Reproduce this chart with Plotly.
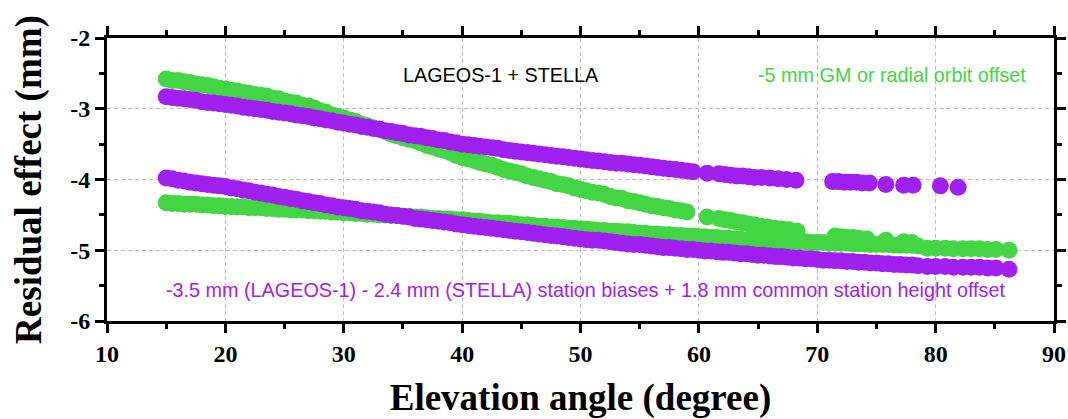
import plotly.graph_objects as go

# ---- data ----
green_a_x = [15.0, 15.5, 16.0, 16.5, 17.0, 17.5, 18.0, 18.5, 19.0, 19.5, 20.0, 20.5, 21.0, 21.5, 22.0, 22.5,
             23.0, 23.5, 24.0, 24.5, 25.0, 25.5, 26.0, 26.5, 27.0, 27.5, 28.0, 28.5, 29.0, 29.5, 30.0, 30.5,
             31.0, 31.5, 32.0, 32.5, 33.0, 33.5, 34.0, 34.5, 35.0, 35.5, 36.0, 36.5, 37.0, 37.5, 38.0, 38.5,
             39.0, 39.5, 40.0, 40.5, 41.0, 41.5, 42.0, 42.5, 43.0, 43.5, 44.0, 44.5, 45.0, 45.5, 46.0, 46.5,
             47.0, 47.5, 48.0, 48.5, 49.0, 49.5, 50.0, 50.5, 51.0, 51.5, 52.0, 52.5, 53.0, 53.5, 54.0, 54.5,
             55.0, 55.5, 56.0, 56.5, 57.0, 57.5, 58.0, 58.5, 59.0, 60.7, 61.7, 62.2, 62.7, 63.2, 63.7, 64.2,
             64.7, 65.2, 65.8, 66.4, 67.0, 67.6, 68.3, 71.5, 72.0, 72.5, 73.0, 73.5, 74.2, 75.8, 77.3, 78.0]
green_a_y = [-2.58, -2.60, -2.60, -2.62, -2.63, -2.65, -2.66, -2.67, -2.69, -2.71, -2.72, -2.74, -2.75, -2.77, -2.78, -2.80,
             -2.81, -2.82, -2.85, -2.86, -2.89, -2.91, -2.92, -2.95, -2.96, -2.99, -3.03, -3.05, -3.09, -3.11, -3.13, -3.16,
             -3.18, -3.22, -3.24, -3.27, -3.29, -3.32, -3.36, -3.38, -3.41, -3.43, -3.45, -3.48, -3.52, -3.54, -3.57, -3.59,
             -3.62, -3.66, -3.69, -3.71, -3.73, -3.76, -3.78, -3.80, -3.83, -3.86, -3.88, -3.90, -3.92, -3.95, -3.97, -3.99,
             -4.01, -4.03, -4.06, -4.07, -4.09, -4.12, -4.14, -4.16, -4.18, -4.19, -4.21, -4.24, -4.26, -4.27, -4.30, -4.31,
             -4.33, -4.35, -4.37, -4.38, -4.40, -4.41, -4.43, -4.44, -4.46, -4.53, -4.55, -4.57, -4.58, -4.60, -4.61, -4.63,
             -4.64, -4.66, -4.67, -4.69, -4.70, -4.71, -4.73, -4.80, -4.81, -4.82, -4.82, -4.83, -4.84, -4.86, -4.88, -4.89]

green_b_x = [15.0, 15.5, 16.0, 16.5, 17.0, 17.5, 18.0, 18.5, 19.0, 19.5, 20.0, 20.5, 21.0, 21.5, 22.0, 22.5,
             23.0, 23.5, 24.0, 24.5, 25.0, 25.5, 26.0, 26.5, 27.0, 27.5, 28.0, 28.5, 29.0, 29.5, 30.0, 30.5,
             31.0, 31.5, 32.0, 32.5, 33.0, 33.5, 34.0, 34.5, 35.0, 35.5, 36.0, 36.5, 37.0, 37.5, 38.0, 38.5,
             39.0, 39.5, 40.0, 40.5, 41.0, 41.5, 42.0, 42.5, 43.0, 43.5, 44.0, 44.5, 45.0, 45.5, 46.0, 46.5,
             47.0, 47.5, 48.0, 48.5, 49.0, 49.5, 50.0, 50.5, 51.0, 51.5, 52.0, 52.5, 53.0, 53.5, 54.0, 54.5,
             55.0, 55.5, 56.0, 56.5, 57.0, 57.5, 58.0, 58.5, 59.0, 59.5, 60.0, 60.5, 61.0, 61.5, 62.0, 62.5,
             63.0, 63.5, 64.0, 64.5, 65.0, 65.5, 66.0, 66.5, 67.0, 67.5, 68.0, 68.5, 69.0, 69.5, 70.0, 70.5,
             71.0, 71.5, 72.0, 72.5, 73.0, 73.5, 74.0, 74.5, 75.0, 75.5, 76.0, 76.5, 77.0, 77.5, 78.0, 78.5,
             79.3, 80.0, 80.8, 81.5, 82.3, 83.0, 83.7, 84.4, 85.1, 86.2]
green_b_y = [-4.33, -4.34, -4.34, -4.35, -4.35, -4.35, -4.36, -4.36, -4.37, -4.37, -4.38, -4.38, -4.39, -4.39, -4.40, -4.40,
             -4.40, -4.41, -4.41, -4.42, -4.42, -4.43, -4.43, -4.43, -4.44, -4.44, -4.45, -4.45, -4.46, -4.46, -4.47, -4.47,
             -4.48, -4.48, -4.49, -4.49, -4.50, -4.50, -4.51, -4.51, -4.52, -4.52, -4.53, -4.53, -4.54, -4.55, -4.55, -4.56,
             -4.56, -4.57, -4.57, -4.58, -4.59, -4.59, -4.60, -4.61, -4.61, -4.62, -4.62, -4.63, -4.64, -4.64, -4.65, -4.66,
             -4.66, -4.67, -4.67, -4.68, -4.69, -4.69, -4.70, -4.70, -4.71, -4.72, -4.72, -4.73, -4.73, -4.74, -4.74, -4.75,
             -4.76, -4.76, -4.77, -4.77, -4.78, -4.78, -4.79, -4.79, -4.80, -4.80, -4.81, -4.81, -4.82, -4.82, -4.83, -4.83,
             -4.84, -4.84, -4.85, -4.85, -4.85, -4.86, -4.86, -4.87, -4.87, -4.87, -4.88, -4.88, -4.88, -4.89, -4.89, -4.89,
             -4.90, -4.90, -4.90, -4.90, -4.91, -4.91, -4.91, -4.92, -4.92, -4.92, -4.92, -4.93, -4.93, -4.93, -4.93, -4.94,
             -4.97, -4.97, -4.97, -4.98, -4.98, -4.98, -4.98, -4.99, -4.99, -5.00]

purple_a_x = [15.0, 15.5, 16.0, 16.5, 17.0, 17.5, 18.0, 18.5, 19.0, 19.5, 20.0, 20.5, 21.0, 21.5, 22.0, 22.5,
              23.0, 23.5, 24.0, 24.5, 25.0, 25.5, 26.0, 26.5, 27.0, 27.5, 28.0, 28.5, 29.0, 29.5, 30.0, 30.5,
              31.0, 31.5, 32.0, 32.5, 33.0, 33.5, 34.0, 34.5, 35.0, 35.5, 36.0, 36.5, 37.0, 37.5, 38.0, 38.5,
              39.0, 39.5, 40.0, 40.5, 41.0, 41.5, 42.0, 42.5, 43.0, 43.5, 44.0, 44.5, 45.0, 45.5, 46.0, 46.5,
              47.0, 47.5, 48.0, 48.5, 49.0, 49.5, 50.0, 50.5, 51.0, 51.5, 52.0, 52.5, 53.0, 53.5, 54.0, 54.5,
              55.0, 55.5, 56.0, 56.5, 57.0, 57.5, 58.0, 58.5, 59.0, 59.5, 60.7, 61.7, 62.2, 62.7, 63.2, 63.7,
              64.2, 64.7, 65.3, 66.0, 66.7, 67.4, 68.2, 71.3, 71.8, 72.3, 72.8, 73.3, 73.8, 74.4, 75.8, 77.3,
              78.1, 80.4, 81.9]
purple_a_y = [-2.83, -2.84, -2.85, -2.86, -2.87, -2.88, -2.90, -2.91, -2.92, -2.93, -2.94, -2.95, -2.96, -2.98, -2.99, -3.00,
              -3.01, -3.02, -3.04, -3.05, -3.06, -3.07, -3.09, -3.10, -3.11, -3.13, -3.14, -3.16, -3.17, -3.19, -3.20, -3.22,
              -3.23, -3.25, -3.26, -3.28, -3.29, -3.31, -3.32, -3.34, -3.35, -3.37, -3.38, -3.39, -3.41, -3.42, -3.44, -3.45,
              -3.47, -3.48, -3.50, -3.51, -3.52, -3.53, -3.54, -3.55, -3.56, -3.58, -3.59, -3.60, -3.61, -3.62, -3.63, -3.64,
              -3.65, -3.66, -3.67, -3.68, -3.69, -3.70, -3.71, -3.72, -3.73, -3.74, -3.75, -3.76, -3.77, -3.77, -3.78, -3.79,
              -3.80, -3.81, -3.82, -3.83, -3.84, -3.85, -3.86, -3.87, -3.88, -3.89, -3.91, -3.92, -3.93, -3.94, -3.95, -3.95,
              -3.96, -3.97, -3.97, -3.98, -3.99, -4.00, -4.01, -4.03, -4.03, -4.04, -4.04, -4.04, -4.05, -4.05, -4.07, -4.08,
              -4.08, -4.09, -4.11]

purple_b_x = [15.0, 15.5, 16.0, 16.5, 17.0, 17.5, 18.0, 18.5, 19.0, 19.5, 20.0, 20.5, 21.0, 21.5, 22.0, 22.5,
              23.0, 23.5, 24.0, 24.5, 25.0, 25.5, 26.0, 26.5, 27.0, 27.5, 28.0, 28.5, 29.0, 29.5, 30.0, 30.5,
              31.0, 31.5, 32.0, 32.5, 33.0, 33.5, 34.0, 34.5, 35.0, 35.5, 36.0, 36.5, 37.0, 37.5, 38.0, 38.5,
              39.0, 39.5, 40.0, 40.5, 41.0, 41.5, 42.0, 42.5, 43.0, 43.5, 44.0, 44.5, 45.0, 45.5, 46.0, 46.5,
              47.0, 47.5, 48.0, 48.5, 49.0, 49.5, 50.0, 50.5, 51.0, 51.5, 52.0, 52.5, 53.0, 53.5, 54.0, 54.5,
              55.0, 55.5, 56.0, 56.5, 57.0, 57.5, 58.0, 58.5, 59.0, 59.5, 60.0, 60.5, 61.0, 61.5, 62.0, 62.5,
              63.0, 63.5, 64.0, 64.5, 65.0, 65.5, 66.0, 66.5, 67.0, 67.5, 68.0, 68.5, 69.0, 69.5, 70.0, 70.5,
              71.0, 71.5, 72.0, 72.5, 73.0, 73.5, 74.0, 74.5, 75.0, 75.5, 76.0, 76.5, 77.0, 77.5, 78.0, 78.5,
              79.3, 80.0, 80.8, 81.5, 82.3, 83.0, 83.7, 84.4, 85.1, 86.2]
purple_b_y = [-3.98, -3.99, -4.01, -4.02, -4.04, -4.05, -4.06, -4.07, -4.08, -4.09, -4.10, -4.12, -4.13, -4.15, -4.16, -4.18,
              -4.19, -4.21, -4.22, -4.24, -4.25, -4.27, -4.28, -4.30, -4.31, -4.33, -4.34, -4.36, -4.37, -4.39, -4.40, -4.41,
              -4.42, -4.44, -4.45, -4.46, -4.47, -4.49, -4.50, -4.51, -4.52, -4.53, -4.55, -4.56, -4.57, -4.58, -4.59, -4.60,
              -4.61, -4.63, -4.64, -4.65, -4.66, -4.67, -4.68, -4.69, -4.70, -4.71, -4.72, -4.73, -4.74, -4.75, -4.76, -4.77,
              -4.78, -4.79, -4.80, -4.81, -4.82, -4.83, -4.84, -4.85, -4.86, -4.86, -4.87, -4.88, -4.89, -4.90, -4.91, -4.92,
              -4.92, -4.93, -4.94, -4.95, -4.96, -4.96, -4.97, -4.98, -4.99, -4.99, -5.00, -5.01, -5.01, -5.02, -5.03, -5.03,
              -5.04, -5.05, -5.05, -5.06, -5.07, -5.07, -5.08, -5.09, -5.09, -5.10, -5.11, -5.11, -5.12, -5.12, -5.13, -5.14,
              -5.14, -5.15, -5.15, -5.16, -5.16, -5.17, -5.17, -5.18, -5.18, -5.19, -5.19, -5.20, -5.20, -5.21, -5.21, -5.22,
              -5.23, -5.23, -5.23, -5.24, -5.24, -5.24, -5.24, -5.25, -5.25, -5.27]

x_ticks = [10, 20, 30, 40, 50, 60, 70, 80, 90]
y_ticks = [-2, -3, -4, -5, -6]

label_main = "LAGEOS-1 + STELLA"
label_green = "-5 mm GM or radial orbit offset"
label_purple = "-3.5 mm (LAGEOS-1) - 2.4 mm (STELLA) station biases + 1.8 mm common station height offset"

GREEN = "#43d543"
PURPLE = "#a020f0"
MS = 17

fig = go.Figure()
for xs, ys, col in [(green_a_x, green_a_y, GREEN), (green_b_x, green_b_y, GREEN),
                    (purple_a_x, purple_a_y, PURPLE), (purple_b_x, purple_b_y, PURPLE)]:
    fig.add_trace(go.Scatter(x=xs, y=ys, mode="markers",
                             marker=dict(size=MS, color=col, line=dict(width=0)),
                             showlegend=False, hoverinfo="skip", cliponaxis=True))

tickfont = dict(family="Liberation Serif", size=24, color="black")
titlefont = dict(family="Liberation Serif", size=37, color="black")

common = dict(showline=True, linewidth=3, linecolor="black", mirror="allticks",
              ticks="outside", ticklen=9, tickwidth=3, tickcolor="black",
              showgrid=True, gridcolor="#bdbdbd", gridwidth=1, griddash="4px,3px",
              zeroline=False, tickfont=tickfont, automargin=False, ticklabeloverflow="allow")

fig.update_xaxes(range=[10, 90], tickvals=x_ticks, ticktext=[f"<b>{v}</b>" for v in x_ticks],
                 minor=dict(ticks="outside", dtick=5, tick0=10, ticklen=5, tickwidth=3,
                            tickcolor="black", showgrid=False),
                 title=dict(text="<b>Elevation angle (degree)</b>", font=titlefont, standoff=20),
                 **common)
fig.update_yaxes(range=[-6, -2], tickvals=y_ticks, ticktext=[f"<b>{v}</b>" for v in y_ticks],
                 minor=dict(ticks="outside", dtick=0.5, tick0=-6, ticklen=5, tickwidth=3,
                            tickcolor="black", showgrid=False),
                 title=dict(text="<b>Residual effect (mm)</b>", font=titlefont, standoff=18),
                 **common)

annfont = "Liberation Sans"
fig.add_annotation(x=43.3, y=-2.52, text=label_main, showarrow=False,
                   font=dict(family=annfont, size=19.8, color="black"))
fig.add_annotation(x=76.3, y=-2.52, text=label_green, showarrow=False,
                   font=dict(family=annfont, size=19.8, color=GREEN))
fig.add_annotation(x=50.5, y=-5.56, text=label_purple, showarrow=False,
                   font=dict(family=annfont, size=19.8, color=PURPLE))

fig.update_layout(width=1068, height=419, margin=dict(l=107, r=14, t=38, b=98, autoexpand=False),
                  plot_bgcolor="white", paper_bgcolor="white")

# remove the default page margin so the figure fills the window exactly
fig.write_html("out.html",
               config={"displayModeBar": False},
               post_script="document.body.style.margin='0px';"
                           "document.documentElement.style.overflow='hidden';"
                           "document.body.style.overflow='hidden';")
